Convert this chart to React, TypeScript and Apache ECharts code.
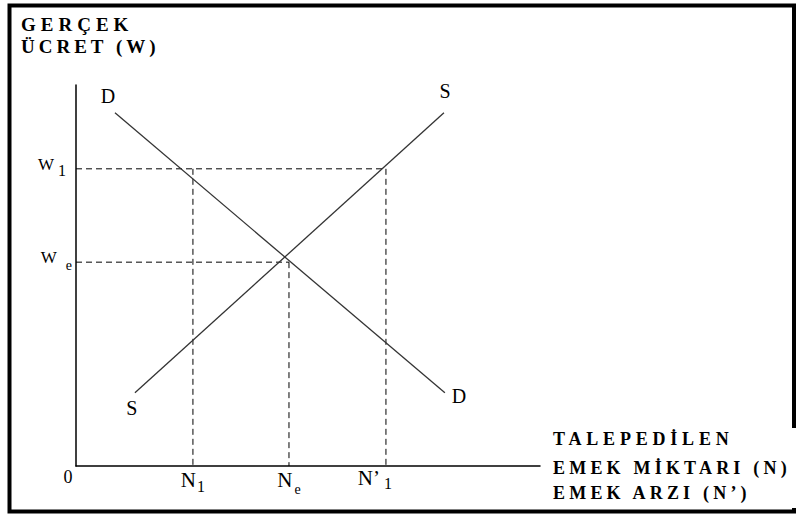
import React, { useEffect, useRef } from 'react';
import * as echarts from 'echarts';

// ---- data (abstract units) ----
const quantityTicks = [0, 25.2, 45.9, 66.8];
const quantityNames = ['0', 'N1', 'Ne', 'N’1'];
const wageTicks = [53.5, 78];
const wageNames = ['We', 'W1'];
const demandPoints: [number, number][] = [[8.4, 92.7], [79.5, 19.2]];
const supplyPoints: [number, number][] = [[12.7, 19.2], [79.3, 92.7]];
const demandEndLabels = ['D', 'D'];
const supplyEndLabels = ['S', 'S'];
const wageAxisTitle = ['GERÇEK', 'ÜCRET (W)'];
const quantityAxisTitle = ['TALEPEDİLEN', 'EMEK MİKTARI (N)', 'EMEK ARZI (N’)'];

const SERIF = '"Liberation Serif", "Times New Roman", serif';

export default function App() {
  const ref = useRef<HTMLDivElement>(null);

  useEffect(() => {
    const el = ref.current!;
    const chart = echarts.init(el, null, { renderer: 'svg' });

    const [, N1, Ne, N1p] = quantityTicks;
    const [We, W1] = wageTicks;
    const guides: [number, number][][] = [
      [[0, W1], [N1p, W1]],
      [[0, We], [Ne, We]],
      [[N1, W1], [N1, 0]],
      [[Ne, We], [Ne, 0]],
      [[N1p, W1], [N1p, 0]],
    ];

    const demandOffsets = [[-7, -17], [14, 3]];
    const supplyOffsets = [[-3, 15], [1, -22]];

    const endLabel = (txt: string, off: number[]) => ({
      show: true,
      formatter: txt,
      position: 'inside',
      offset: off,
      align: 'center',
      verticalAlign: 'middle',
      fontFamily: SERIF,
      fontSize: 20,
      color: '#000',
    });

    const xFormatter = (v: number) => {
      const i = quantityTicks.findIndex((t) => Math.abs(t - v) < 1e-6);
      const name = quantityNames[i];
      if (i === 0) return '{z|' + name + '}';
      if (i === 1) return '{n|' + name[0] + '}{s1|' + name.slice(1) + '}';
      if (i === 2) return '{n|' + name[0] + '}{se|' + name.slice(1) + '}';
      if (i === 3) return '{np|' + name.slice(0, 2) + '}{s1p|' + name.slice(2) + '}';
      return '';
    };
    const yFormatter = (v: number) => {
      const i = wageTicks.findIndex((t) => Math.abs(t - v) < 1e-6);
      const name = wageNames[i];
      if (i === 0) return '{wb|' + name[0] + '}{sey|' + name.slice(1) + '}';
      if (i === 1) return '{wa|' + name[0] + '}{s1y|' + name.slice(1) + '}';
      return '';
    };

    const tok = (fontSize: number, padding: number[]) => ({
      fontFamily: SERIF,
      fontSize,
      lineHeight: 20,
      color: '#000',
      padding,
    });

    const option: any = {
      animation: false,
      backgroundColor: '#fff',
      grid: { left: 76, top: 85, right: 258, bottom: 48, containLabel: false },
      xAxis: {
        type: 'value',
        min: 0,
        max: 100,
        splitLine: { show: false },
        axisTick: { show: false },
        axisLine: { show: true, lineStyle: { color: '#000', width: 1.5 } },
        axisLabel: {
          customValues: quantityTicks,
          formatter: xFormatter,
          margin: 4,
          fontFamily: SERIF,
          color: '#000',
          rich: {
            z: tok(18, [0, 16, 6, 0]),
            n: tok(21, [0, 0, 0, 0]),
            np: tok(21, [0, 0, 5, 0]),
            s1: tok(16, [12, 0, 0, 1]),
            s1p: tok(16, [7, 22, 0, 4]),
            se: tok(14, [18, 0, 0, 2]),
          },
        },
      },
      yAxis: {
        type: 'value',
        min: 0,
        max: 100,
        splitLine: { show: false },
        axisTick: { show: false },
        axisLine: { show: true, lineStyle: { color: '#000', width: 1.5 } },
        axisLabel: {
          customValues: wageTicks,
          formatter: yFormatter,
          margin: 4,
          fontFamily: SERIF,
          color: '#000',
          rich: {
            wa: tok(17, [0, 4, 8, 0]),
            s1y: tok(16, [3, 6, 0, 0]),
            wb: tok(17, [0, 9, 9, 0]),
            sey: tok(14, [6, 0, 0, 0]),
          },
        },
      },
      graphic: [
        {
          type: 'rect',
          z: 10,
          shape: { x: 9.5, y: 5.5, width: 784.5, height: 506 },
          style: { fill: 'none', stroke: '#000', lineWidth: 4 },
          silent: true,
        },
        {
          type: 'rect',
          z: 11,
          shape: { x: 545, y: 428, width: 260, height: 80 },
          style: { fill: '#fff', stroke: 'none' },
          silent: true,
        },
        ...wageAxisTitle.map((t, i) => ({
          type: 'text',
          z: 12,
          x: 21,
          y: i === 0 ? 24 : 46,
          style: {
            text: t,
            font: 'bold 19px ' + SERIF,
            fill: '#000',
            align: 'left',
            verticalAlign: 'middle',
          },
          silent: true,
        })),
        ...quantityAxisTitle.map((t, i) => ({
          type: 'text',
          z: 12,
          x: 553,
          y: [439, 467.5, 492.5][i],
          style: {
            text: t,
            font: 'bold 18px ' + SERIF,
            fill: '#000',
            align: 'left',
            verticalAlign: 'middle',
          },
          silent: true,
        })),
      ],
      series: [
        ...guides.map((g) => ({
          type: 'line',
          data: g,
          symbol: 'none',
          silent: true,
          lineStyle: { color: '#000', width: 1, type: [6, 4] },
          z: 2,
        })),
        {
          type: 'line',
          name: 'D',
          data: demandPoints.map((p, i) => ({
            value: p,
            label: endLabel(demandEndLabels[i], demandOffsets[i]),
          })),
          symbol: 'circle',
          symbolSize: 1,
          itemStyle: { color: 'rgba(0,0,0,0)' },
          lineStyle: { color: '#333', width: 1.3 },
          silent: true,
          z: 3,
        },
        {
          type: 'line',
          name: 'S',
          data: supplyPoints.map((p, i) => ({
            value: p,
            label: endLabel(supplyEndLabels[i], supplyOffsets[i]),
          })),
          symbol: 'circle',
          symbolSize: 1,
          itemStyle: { color: 'rgba(0,0,0,0)' },
          lineStyle: { color: '#333', width: 1.3 },
          silent: true,
          z: 3,
        },
      ],
    };

    chart.setOption(option);

    const spacing: Record<string, string> = {
      'GERÇEK': '5px',
      'ÜCRET (W)': '4px',
      'TALEPEDİLEN': '4.8px',
      'EMEK MİKTARI (N)': '4.2px',
      'EMEK ARZI (N’)': '4.2px',
    };
    const applySpacing = () => {
      el.querySelectorAll('text').forEach((t) => {
        const s = (t.textContent || '').trim();
        if (spacing[s]) (t as any).style.letterSpacing = spacing[s];
      });
    };
    applySpacing();
    chart.on('finished', applySpacing);

    return () => {
      chart.dispose();
    };
  }, []);

  return (
    <div
      ref={ref}
      style={{ position: 'fixed', left: 0, top: 0, width: 798, height: 514, background: '#fff' }}
    />
  );
}
